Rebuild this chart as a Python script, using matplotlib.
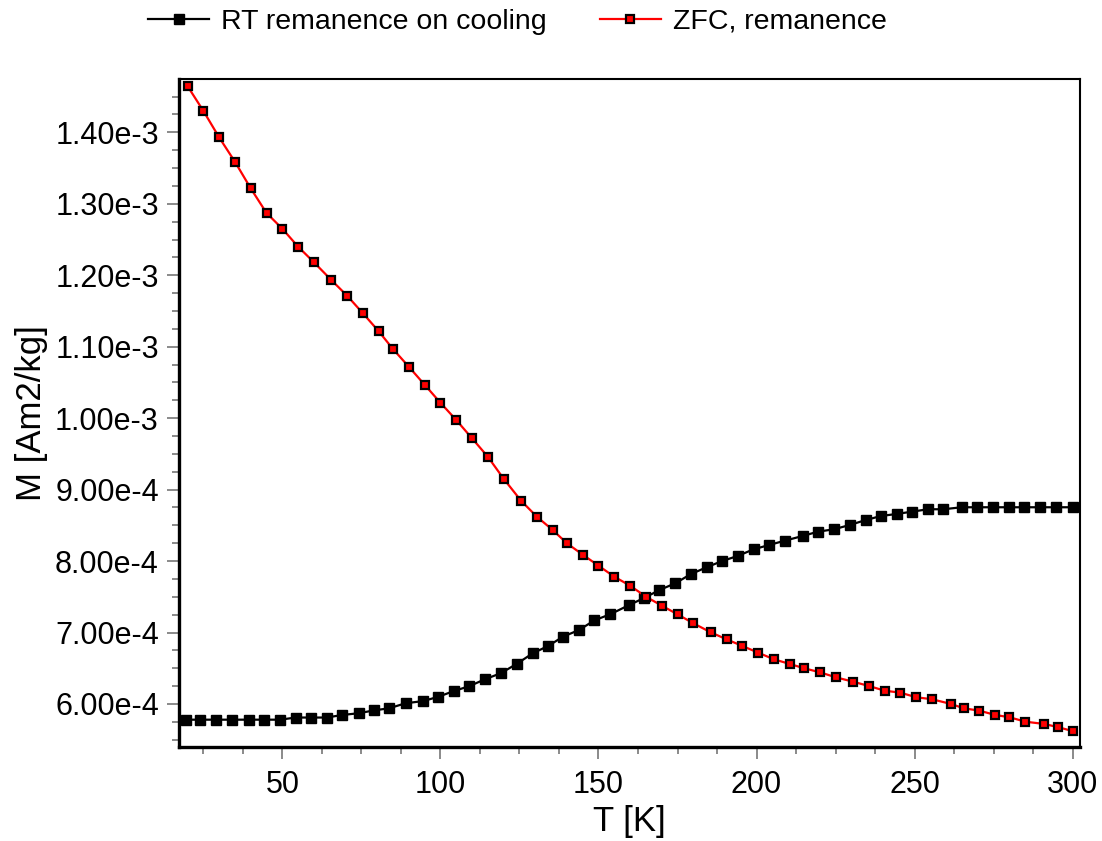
import matplotlib
matplotlib.use("Agg")
import matplotlib.pyplot as plt
from matplotlib.ticker import FuncFormatter, MultipleLocator

plt.rcParams['font.family'] = ['Liberation Sans', 'DejaVu Sans']

# RT remanence measured on cooling: temperature [K] and moment [Am2/kg]
T_rt = [19.5, 24.0, 29.0, 34.0, 39.3, 44.3, 49.3, 54.2, 59.1, 64.0,
        69.0, 74.1, 79.0, 83.8, 89.0, 94.5, 99.3, 104.2, 109.2, 114.1,
        119.1, 124.1, 129.2, 134.1, 138.8, 143.9, 148.7, 153.8, 159.5, 164.5,
        169.3, 174.3, 179.2, 184.2, 189.1, 194.0, 199.1, 204.0, 208.9, 214.6,
        219.4, 224.5, 229.5, 234.6, 239.4, 244.3, 249.1, 254.2, 259.1, 264.9,
        269.8, 274.9, 279.7, 284.7, 289.7, 294.6, 300.0]
M_rt = [5.78e-4, 5.78e-4, 5.78e-4, 5.78e-4, 5.78e-4, 5.78e-4, 5.78e-4, 5.81e-4, 5.81e-4, 5.81e-4,
        5.846e-4, 5.87e-4, 5.91e-4, 5.94e-4, 6.01e-4, 6.04e-4, 6.10e-4, 6.18e-4, 6.25e-4, 6.346e-4,
        6.43e-4, 6.56e-4, 6.709e-4, 6.812e-4, 6.942e-4, 7.036e-4, 7.17e-4, 7.257e-4, 7.38e-4, 7.485e-4,
        7.595e-4, 7.689e-4, 7.817e-4, 7.913e-4, 8.00e-4, 8.071e-4, 8.165e-4, 8.225e-4, 8.285e-4, 8.351e-4,
        8.411e-4, 8.445e-4, 8.505e-4, 8.575e-4, 8.631e-4, 8.659e-4, 8.691e-4, 8.725e-4, 8.725e-4, 8.753e-4,
        8.753e-4, 8.753e-4, 8.753e-4, 8.753e-4, 8.753e-4, 8.753e-4, 8.753e-4]

# ZFC remanence on warming
T_zfc = [20.0, 25.0, 30.0, 35.0, 40.0, 45.0, 50.0, 55.0, 60.0, 65.5,
         70.5, 75.5, 80.5, 85.0, 90.0, 95.0, 100.0, 105.0, 110.0, 115.0,
         120.0, 125.5, 130.5, 135.5, 140.0, 145.0, 150.0, 155.0, 160.0, 165.0,
         170.0, 175.0, 180.0, 185.5, 190.5, 195.5, 200.5, 205.5, 210.5, 215.0,
         220.0, 225.0, 230.5, 235.5, 240.5, 245.5, 250.5, 255.5, 261.5, 265.5,
         270.5, 275.5, 280.0, 285.0, 291.0, 295.5, 300.0]
M_zfc = [1.4648e-3, 1.4302e-3, 1.3930e-3, 1.3589e-3, 1.3216e-3, 1.2871e-3, 1.2651e-3, 1.2399e-3, 1.2181e-3, 1.1933e-3,
         1.1713e-3, 1.1467e-3, 1.1215e-3, 1.0967e-3, 1.0720e-3, 1.0468e-3, 1.0216e-3, 9.974e-4, 9.718e-4, 9.460e-4,
         9.152e-4, 8.845e-4, 8.621e-4, 8.435e-4, 8.249e-4, 8.09e-4, 7.935e-4, 7.781e-4, 7.655e-4, 7.502e-4,
         7.376e-4, 7.255e-4, 7.129e-4, 7.003e-4, 6.905e-4, 6.812e-4, 6.718e-4, 6.625e-4, 6.560e-4, 6.500e-4,
         6.444e-4, 6.374e-4, 6.312e-4, 6.252e-4, 6.186e-4, 6.158e-4, 6.094e-4, 6.066e-4, 6.000e-4, 5.940e-4,
         5.906e-4, 5.846e-4, 5.814e-4, 5.752e-4, 5.720e-4, 5.674e-4, 5.620e-4]

labels = ["RT remanence on cooling", "ZFC, remanence"]
x_label = "T [K]"
y_label = "M [Am2/kg]"

fig = plt.figure(figsize=(11.02, 8.41), dpi=100)
ax = fig.add_axes([0.1624, 0.1118, 0.8176, 0.7942])

l1, = ax.plot(T_rt, M_rt, color='black', lw=1.6, marker='s', ms=7.8,
              mfc='black', mec='black', mew=1.0, zorder=3)
l2, = ax.plot(T_zfc, M_zfc, color='#ff0000', lw=1.6, marker='s', ms=5.9,
              mfc='#ff0000', mec='black', mew=1.6, zorder=4)

ax.set_xlim(17.3, 302.3)
ax.set_ylim(5.398e-4, 1.4746e-3)

ax.xaxis.set_major_locator(MultipleLocator(50))
ax.xaxis.set_minor_locator(MultipleLocator(12.5))
ax.yaxis.set_major_locator(MultipleLocator(1e-4))
ax.yaxis.set_minor_locator(MultipleLocator(0.25e-4))


def sci_fmt(v, pos):
    mant, exp = f"{v:.2e}".split('e')
    return f"{mant}e{int(exp)}"


ax.yaxis.set_major_formatter(FuncFormatter(sci_fmt))

ax.tick_params(which='major', direction='out', length=8.5, width=1.4,
               color='#8a8a8a', labelsize=22, pad=6)
ax.tick_params(which='minor', direction='out', length=5, width=1.4,
               color='#8a8a8a')
ax.tick_params(axis='x', which='major', pad=8)

for side in ['left', 'bottom']:
    ax.spines[side].set_linewidth(2.4)
for side in ['top', 'right']:
    ax.spines[side].set_linewidth(1.5)
for sp in ax.spines.values():
    sp.set_color('black')

ax.set_xlabel(x_label, fontsize=25, labelpad=4)
ax.set_ylabel(y_label, fontsize=25, va='center')
ax.yaxis.set_label_coords(-0.164, 0.5)

fig.legend([l1, l2], labels, loc='center', bbox_to_anchor=(0.4696, 0.974),
           ncol=2, frameon=False, fontsize=20.5, handlelength=2.15,
           handletextpad=0.42, columnspacing=1.86, borderpad=0, borderaxespad=0)

fig.savefig("out.png", dpi=100)
